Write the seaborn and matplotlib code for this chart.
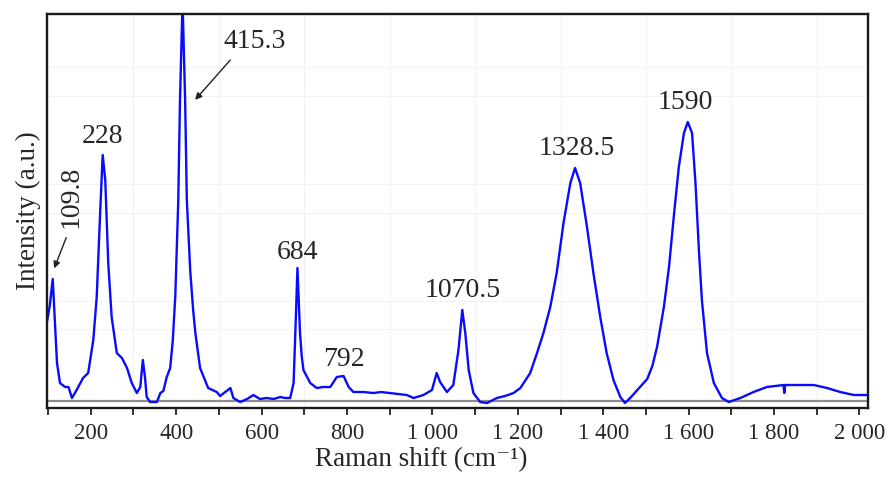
import numpy as np
import pandas as pd
import seaborn as sns
import matplotlib.pyplot as plt

# Raman spectrum (shift in cm-1, intensity in a.u.)
shift = [97, 104, 111, 116, 121, 128, 140, 148, 156, 167, 182, 194, 206, 214,
         222, 228, 234, 241, 249, 261, 273, 285, 296, 308, 316, 322, 327, 331,
         339, 355, 363, 370, 378, 386, 392, 398, 405, 409, 415, 421, 425, 433,
         440, 445, 456, 475, 495, 503, 527, 534, 550, 566, 581, 596, 612, 628,
         644, 655, 667, 675, 680, 684, 688, 690, 694, 698, 714, 729, 744, 761,
         776, 792, 804, 815, 838, 862, 880, 901, 920, 940, 956, 979, 999, 1010,
         1018, 1034, 1049, 1061, 1070, 1077, 1085, 1096, 1112, 1128, 1151, 1170,
         1190, 1206, 1229, 1245, 1260, 1276, 1291, 1307, 1323, 1334, 1346, 1362,
         1377, 1393, 1408, 1424, 1440, 1451, 1463, 1486, 1503, 1515, 1526, 1542,
         1554, 1566, 1577, 1589, 1598, 1608, 1616, 1624, 1631, 1643, 1659, 1678,
         1694, 1721, 1752, 1783, 1822, 1824, 1826, 1862, 1893, 1924, 1955, 1987,
         2018]
intensity = [78, 95, 122, 80, 38, 18, 14, 14, 3, 11, 23, 28, 61, 104,
             188, 246, 221, 138, 84, 48, 43, 33, 18, 8, 14, 41, 24, 4,
             -1, -1, 8, 10, 24, 33, 60, 105, 201, 301, 400, 301, 201, 130,
             90, 68, 33, 13, 9, 5, 13, 3, -1, 2, 6, 2, 3, 2,
             4, 3, 3, 18, 80, 133, 90, 68, 45, 31, 18, 13, 14, 14,
             24, 25, 14, 9, 9, 8, 9, 8, 7, 6, 3, 6, 11, 28,
             19, 9, 16, 51, 91, 68, 31, 8, -1, -2, 3, 5,
             8, 13, 28, 48, 68, 94, 128, 178, 218, 233, 218, 174,
             128, 84, 48, 21, 4, -2, 3, 14, 22, 35, 54, 94,
             134, 188, 234, 268, 279, 268, 218, 151, 101, 48, 18, 3,
             -1, 3, 9, 14, 16, 8, 16, 16, 16, 13, 9, 6,
             6]

# peak labels and where they sit (shift, intensity)
peak_labels = ["109.8", "228", "415.3", "684", "792", "1070.5", "1328.5", "1590"]
label_x = [154, 228, 585, 684, 792, 1070, 1337, 1592]
label_y = [204, 264, 359, 149, 42, 111, 252, 298]

major_ticks = [200, 400, 600, 800, 1000, 1200, 1400, 1600, 1800, 2000]
tick_labels = ["200", "400", "600", "800", "1 000", "1 200", "1 400", "1 600",
               "1 800", "2 000"]
minor_ticks = [100, 300, 500, 700, 900, 1100, 1300, 1500, 1700, 1900]
hgrid = [72, 100, 188, 217, 305, 334]

df = pd.DataFrame({"shift": shift, "intensity": intensity})

sns.set_theme(style="white")
plt.rcParams["font.family"] = ["Liberation Serif", "DejaVu Serif"]

fig = plt.figure(figsize=(8.87, 4.79), dpi=100)
ax = fig.add_axes([0.0527, 0.1482, 0.9259, 0.8226])

# faint grid
for x in minor_ticks[1:]:
    ax.axvline(x, color="#f2f2f2", lw=0.8, zorder=0)
for y in hgrid:
    ax.axhline(y, color="#f2f2f2", lw=0.8, zorder=0)

ax.axhline(0, color="#8c8c8c", lw=1.6, zorder=1)
sns.lineplot(data=df, x="shift", y="intensity", color="#0a0aff", lw=1.7,
             ax=ax, zorder=2)

ax.set_xlim(97, 2020)
ax.set_ylim(-7, 387)
ax.set_xticks(major_ticks)
ax.set_xticklabels(tick_labels, fontsize=16.5)
ax.set_xticks(minor_ticks, minor=True)
ax.set_yticks([])
ax.tick_params(axis="x", which="both", direction="out", length=5, width=1.3,
               bottom=True, color="#222222", pad=6)
for s in ax.spines.values():
    s.set_linewidth(1.7)
    s.set_color("#1a1a1a")

ax.set_xlabel("Raman shift (cm\u207b\u00b9)", fontsize=19.5)
ax.xaxis.set_label_coords(0.456, -0.1)
ax.set_ylabel("Intensity (a.u.)", fontsize=19.5, labelpad=4)

fs = 20
for i, txt in enumerate(peak_labels):
    ax.text(label_x[i], label_y[i], txt, fontsize=fs, ha="center",
            va="center", rotation=90 if i == 0 else 0)

arrow = dict(arrowstyle="-|>", color="#222222", lw=1, mutation_scale=10)
ax.annotate("", xy=(112, 130), xytext=(145, 166), arrowprops=arrow)
ax.annotate("", xy=(440, 299), xytext=(531, 343), arrowprops=arrow)

fig.savefig("out.png", dpi=100)
